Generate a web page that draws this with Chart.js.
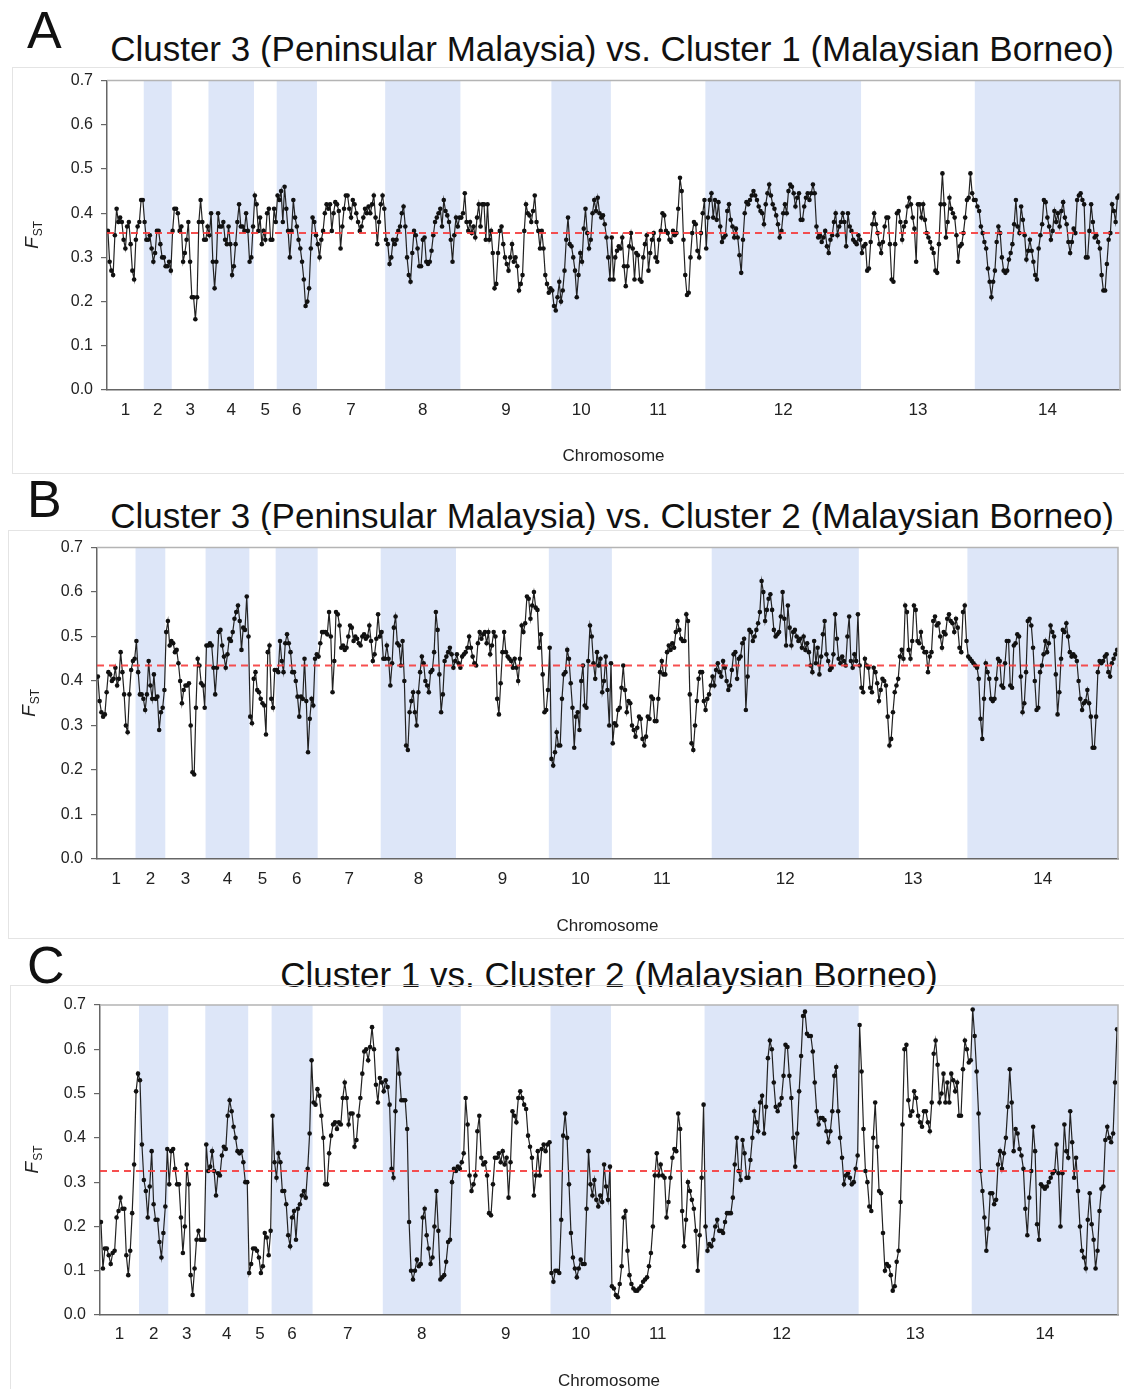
<!DOCTYPE html>
<html>
<head>
<meta charset="utf-8">
<title>FST scans</title>
<script src="https://cdn.jsdelivr.net/npm/chart.js@4.4.1/dist/chart.umd.min.js"></script>
<style>
  body { margin: 0; width: 1124px; height: 1389px; background: #fff; position: relative; overflow: hidden;
         font-family: "Liberation Sans", Arial, sans-serif; color: #111; }
  .letter { position: absolute; font-size: 52px; line-height: 1; }
  .title { position: absolute; font-size: 35px; line-height: 1; white-space: nowrap; transform: translateX(-50%); }
  .frame { position: absolute; border: 1px solid #e4e4e4; box-sizing: border-box; }
  .holder { position: absolute; }
</style>
</head>
<body>
<div class="letter" style="left:27px;top:4px">A</div>
<div class="title" style="left:612px;top:31px">Cluster 3 (Peninsular Malaysia) vs. Cluster 1 (Malaysian Borneo)</div>
<div class="frame" style="left:12px;top:67px;width:1120px;height:407px"></div>
<div class="holder" style="left:12px;top:63px;width:1112px;height:410px"><canvas id="chartA"></canvas></div>

<div class="letter" style="left:27px;top:473px">B</div>
<div class="title" style="left:612px;top:498px">Cluster 3 (Peninsular Malaysia) vs. Cluster 2 (Malaysian Borneo)</div>
<div class="frame" style="left:8px;top:530px;width:1124px;height:409px"></div>
<div class="holder" style="left:8px;top:530px;width:1116px;height:408px"><canvas id="chartB"></canvas></div>

<div class="letter" style="left:27px;top:939px">C</div>
<div class="title" style="left:609px;top:957px">Cluster 1 vs. Cluster 2 (Malaysian Borneo)</div>
<div class="frame" style="left:10px;top:985px;width:1122px;height:420px"></div>
<div class="holder" style="left:10px;top:985px;width:1114px;height:404px"><canvas id="chartC"></canvas></div>

<script>
// Chromosome names on the x axis
const chromosomes = ['1', '2', '3', '4', '5', '6', '7', '8', '9', '10', '11', '12', '13', '14'];

// Genome-wide mean FST per comparison (red dashed line)
const meanA = 0.355;
const meanB = 0.435;
const meanC = 0.325;

// Window FST values, one list per chromosome
const fstA = [
  [0.36,0.29,0.27,0.26,0.35,0.41,0.38,0.39,0.38,0.34,0.32,0.37,0.38,0.33,0.27,0.25,0.34,0.37,0.38,0.43,0.43],
  [0.38,0.34,0.34,0.35,0.32,0.29,0.31,0.36,0.36,0.33,0.30,0.30,0.28,0.28,0.29,0.27],
  [0.36,0.41,0.41,0.40,0.36,0.37,0.29,0.31,0.34,0.38,0.29,0.21,0.21,0.16,0.21,0.38,0.43,0.38,0.34,0.34,0.37],
  [0.35,0.40,0.29,0.23,0.29,0.40,0.37,0.37,0.38,0.34,0.33,0.37,0.33,0.26,0.28,0.33,0.38,0.42,0.37,0.37,0.36,0.40,0.36,0.29,0.30,0.37],
  [0.44,0.42,0.36,0.39,0.33,0.36,0.34,0.40,0.41,0.34,0.34,0.41,0.38],
  [0.44,0.43,0.45,0.38,0.46,0.41,0.36,0.30,0.36,0.43,0.39,0.37,0.34,0.32,0.29,0.25,0.19,0.20,0.23,0.32,0.39,0.38,0.35],
  [0.33,0.30,0.34,0.36,0.40,0.42,0.41,0.42,0.36,0.40,0.425,0.42,0.405,0.32,0.37,0.41,0.44,0.44,0.41,0.39,
   0.43,0.42,0.40,0.38,0.36,0.37,0.39,0.41,0.40,0.415,0.40,0.42,0.44,0.39,0.33,0.38,0.42,0.44,0.41],
  [0.34,0.33,0.285,0.30,0.34,0.33,0.34,0.36,0.37,0.40,0.415,0.37,0.30,0.26,0.245,0.31,0.36,0.35,0.32,0.28,
   0.28,0.34,0.345,0.29,0.285,0.29,0.315,0.35,0.38,0.39,0.40,0.41,0.37,0.43,0.405,0.395,0.38,0.34,0.29,0.35,
   0.39,0.37,0.39],
  [0.39,0.40,0.445,0.38,0.36,0.38,0.355,0.37,0.345,0.39,0.42,0.37,0.42,0.42,0.34,0.42,0.34,0.36,0.31,0.23,
   0.24,0.31,0.36,0.37,0.33,0.30,0.285,0.27,0.30,0.33,0.29,0.30,0.28,0.225,0.24,0.26,0.36,0.42,0.40,0.395,
   0.38,0.405,0.44,0.38,0.36,0.32,0.36,0.32,0.26,0.24,0.22,0.23],
  [0.225,0.19,0.18,0.21,0.245,0.20,0.225,0.27,0.34,0.39,0.33,0.325,0.30,0.27,0.21,0.26,0.31,0.29,0.365,0.41,
   0.355,0.32,0.34,0.40,0.43,0.405,0.435,0.40,0.39,0.395,0.375,0.345,0.30,0.25],
  [0.345,0.25,0.30,0.315,0.325,0.32,0.345,0.28,0.235,0.28,0.325,0.355,0.32,0.25,0.31,0.305,0.25,0.245,0.30,0.33,
   0.35,0.27,0.31,0.34,0.355,0.30,0.29,0.34,0.36,0.40,0.395,0.36,0.355,0.34,0.335,0.36,0.35,0.355,0.41,0.48,
   0.45,0.34,0.26,0.215,0.22,0.30,0.355,0.38,0.375,0.315,0.30,0.355,0.40,0.43],
  [0.32,0.39,0.43,0.445,0.39,0.43,0.385,0.425,0.37,0.335,0.345,0.35,0.405,0.42,0.385,0.37,0.345,0.365,0.345,0.305,
   0.265,0.34,0.40,0.425,0.42,0.43,0.44,0.45,0.44,0.43,0.415,0.405,0.40,0.375,0.42,0.445,0.465,0.44,0.42,0.41,
   0.395,0.375,0.345,0.36,0.40,0.42,0.40,0.45,0.465,0.46,0.445,0.415,0.435,0.445,0.385,0.385,0.415,0.435,0.445,0.43,
   0.445,0.465,0.445,0.37,0.345,0.35,0.335,0.345,0.36,0.325,0.31,0.34,0.35,0.38,0.40,0.35,0.37,0.38,0.40,0.38,
   0.325,0.40,0.37,0.36,0.34,0.335,0.33,0.35,0.34],
  [0.31,0.325,0.33,0.27,0.275,0.335,0.375,0.40,0.375,0.355,0.33,0.31,0.335,0.37,0.39,0.39,0.33,0.25,0.245,0.33,
   0.40,0.405,0.38,0.34,0.37,0.38,0.415,0.435,0.42,0.39,0.365,0.29,0.42,0.42,0.39,0.42,0.385,0.355,0.345,0.335,
   0.32,0.31,0.27,0.265,0.33,0.42,0.49,0.42,0.345,0.38,0.435,0.41,0.40,0.39,0.35,0.29,0.325,0.33,0.355,0.39,
   0.43,0.435,0.49,0.445,0.43],
  [0.43,0.415,0.405,0.37,0.355,0.335,0.32,0.275,0.245,0.21,0.245,0.27,0.335,0.37,0.355,0.30,0.27,0.265,0.27,0.295,
   0.31,0.33,0.375,0.43,0.37,0.355,0.415,0.385,0.35,0.295,0.315,0.34,0.315,0.29,0.26,0.25,0.32,0.35,0.375,0.43,
   0.425,0.39,0.37,0.34,0.36,0.405,0.38,0.40,0.37,0.405,0.425,0.39,0.375,0.335,0.31,0.335,0.365,0.355,0.43,0.44,
   0.445,0.43,0.42,0.30,0.30,0.36,0.42,0.38,0.345,0.35,0.335,0.32,0.26,0.225,0.225,0.285,0.34,0.355,0.42,0.405,
   0.38,0.435,0.44]
];

const fstB = [
  [0.41,0.355,0.33,0.32,0.325,0.375,0.42,0.415,0.40,0.405,0.43,0.39,0.405,0.465,0.42,0.37,0.30,0.285,0.37,0.425,0.445,0.45],
  [0.49,0.42,0.37,0.37,0.36,0.335,0.37,0.445,0.39,0.36,0.415,0.36,0.365,0.29,0.33,0.34,0.38],
  [0.51,0.535,0.48,0.49,0.485,0.465,0.47,0.44,0.40,0.35,0.38,0.39,0.39,0.395,0.30,0.195,0.19,0.34,0.45,0.435,0.395,0.39,0.34],
  [0.48,0.48,0.485,0.48,0.43,0.37,0.43,0.51,0.515,0.48,0.455,0.43,0.46,0.495,0.49,0.51,0.54,0.555,0.57,0.535,0.47,0.52,0.515,0.59,0.50],
  [0.32,0.305,0.405,0.42,0.38,0.375,0.36,0.35,0.345,0.28,0.465,0.48,0.36,0.34,0.425],
  [0.425,0.42,0.49,0.445,0.42,0.485,0.505,0.485,0.465,0.42,0.42,0.40,0.365,0.32,0.365,0.36,0.45,0.355,0.24,0.315,0.36,0.345,0.45,0.46],
  [0.455,0.485,0.51,0.51,0.51,0.505,0.555,0.50,0.375,0.445,0.555,0.55,0.525,0.475,0.48,0.47,0.475,0.50,0.525,0.52,
   0.49,0.50,0.495,0.485,0.48,0.50,0.505,0.495,0.50,0.525,0.49,0.445,0.46,0.495,0.55,0.50],
  [0.51,0.45,0.45,0.48,0.45,0.39,0.44,0.52,0.545,0.485,0.48,0.435,0.49,0.40,0.255,0.245,0.33,0.355,0.375,0.33,
   0.30,0.375,0.42,0.455,0.44,0.40,0.39,0.375,0.42,0.425,0.465,0.555,0.515,0.415,0.33,0.37,0.445,0.455,0.465,0.475,
   0.46,0.43,0.445],
  [0.46,0.44,0.43,0.455,0.46,0.465,0.475,0.50,0.475,0.455,0.44,0.435,0.485,0.51,0.495,0.505,0.51,0.485,0.51,0.46,
   0.48,0.51,0.50,0.36,0.325,0.395,0.465,0.51,0.465,0.455,0.45,0.445,0.43,0.45,0.43,0.40,0.45,0.525,0.51,0.53,
   0.59,0.585,0.54,0.57,0.60,0.565,0.56,0.475,0.505,0.415,0.33,0.335,0.38],
  [0.475,0.225,0.21,0.24,0.285,0.255,0.255,0.36,0.415,0.42,0.47,0.45,0.395,0.34,0.25,0.32,0.33,0.29,0.40,0.435,
   0.345,0.34,0.445,0.525,0.50,0.44,0.405,0.465,0.435,0.45,0.375,0.40,0.455,0.38,0.30,0.44],
  [0.26,0.305,0.30,0.335,0.34,0.385,0.435,0.38,0.33,0.355,0.35,0.30,0.29,0.275,0.295,0.32,0.315,0.27,0.255,0.275,
   0.32,0.315,0.365,0.36,0.31,0.31,0.36,0.42,0.445,0.415,0.415,0.465,0.48,0.47,0.485,0.475,0.51,0.535,0.515,0.495,
   0.49,0.49,0.55,0.535,0.37,0.26,0.245,0.30,0.355,0.405,0.42,0.42,0.355,0.335,0.36,0.37,0.39],
  [0.41,0.39,0.425,0.44,0.42,0.41,0.445,0.43,0.40,0.38,0.39,0.425,0.46,0.465,0.405,0.45,0.455,0.485,0.495,0.335,
   0.41,0.515,0.51,0.49,0.50,0.515,0.53,0.555,0.625,0.60,0.535,0.56,0.585,0.595,0.56,0.515,0.50,0.505,0.51,0.545,
   0.60,0.54,0.48,0.57,0.52,0.48,0.51,0.515,0.50,0.49,0.495,0.475,0.50,0.47,0.485,0.465,0.435,0.42,0.49,0.44,
   0.475,0.415,0.455,0.505,0.535,0.46,0.445,0.425,0.43,0.46,0.55,0.495,0.45,0.44,0.455,0.445,0.435,0.50,0.545,0.445,
   0.43,0.46,0.445,0.55],
  [0.435,0.385,0.375,0.45,0.435,0.43,0.385,0.375,0.43,0.42,0.395,0.355,0.38,0.405,0.40,0.39,0.32,0.255,0.27,0.33,
   0.375,0.39,0.405,0.455,0.47,0.45,0.57,0.555,0.47,0.45,0.49,0.57,0.56,0.49,0.485,0.51,0.475,0.465,0.465,0.42,
   0.455,0.465,0.535,0.545,0.525,0.53,0.50,0.475,0.51,0.505,0.54,0.55,0.535,0.53,0.51,0.54,0.52,0.475,0.465,0.555,
   0.57,0.49],
  [0.455,0.45,0.445,0.44,0.435,0.43,0.405,0.315,0.27,0.36,0.44,0.42,0.405,0.36,0.355,0.36,0.405,0.45,0.445,0.39,
   0.385,0.44,0.49,0.49,0.39,0.385,0.48,0.485,0.505,0.50,0.41,0.33,0.35,0.42,0.535,0.54,0.525,0.475,0.40,0.335,
   0.34,0.42,0.435,0.46,0.49,0.465,0.485,0.525,0.51,0.50,0.415,0.325,0.375,0.45,0.515,0.51,0.53,0.50,0.465,0.455,
   0.46,0.455,0.445,0.40,0.36,0.335,0.35,0.355,0.38,0.35,0.32,0.25,0.25,0.32,0.42,0.445,0.44,0.445,0.455,0.46,
   0.42,0.41,0.44,0.45,0.46,0.47]
];

const fstC = [
  [0.21,0.105,0.15,0.15,0.135,0.115,0.14,0.145,0.22,0.235,0.265,0.24,0.24,0.135,0.09,0.145,0.23,0.34,0.505,0.545],
  [0.53,0.385,0.305,0.28,0.22,0.29,0.37,0.25,0.215,0.215,0.165,0.13,0.185,0.245,0.375],
  [0.295,0.37,0.375,0.33,0.295,0.295,0.22,0.14,0.20,0.34,0.295,0.09,0.045,0.105,0.17,0.19,0.17,0.17,0.17],
  [0.385,0.325,0.335,0.37,0.325,0.27,0.32,0.315,0.36,0.38,0.375,0.45,0.485,0.46,0.425,0.40,0.37,0.365,0.37,0.345,0.30,0.30],
  [0.095,0.115,0.15,0.15,0.145,0.13,0.095,0.11,0.185,0.175,0.135,0.19],
  [0.45,0.345,0.31,0.365,0.345,0.28,0.28,0.25,0.18,0.155,0.22,0.235,0.17,0.24,0.25,0.27,0.28,0.265,0.33,0.41,0.575],
  [0.48,0.475,0.51,0.495,0.45,0.40,0.295,0.295,0.365,0.405,0.43,0.435,0.42,0.435,0.43,0.49,0.525,0.49,0.43,0.455,
   0.455,0.38,0.395,0.45,0.49,0.545,0.595,0.60,0.575,0.605,0.65,0.60,0.52,0.48,0.535,0.525],
  [0.505,0.53,0.515,0.475,0.33,0.31,0.46,0.60,0.545,0.485,0.485,0.485,0.42,0.21,0.10,0.08,0.10,0.125,0.11,0.115,
   0.22,0.24,0.18,0.15,0.115,0.13,0.20,0.28,0.19,0.08,0.085,0.09,0.12,0.165,0.17,0.30,0.33,0.325,0.335,0.33],
  [0.345,0.365,0.49,0.43,0.315,0.28,0.295,0.315,0.415,0.45,0.355,0.34,0.345,0.315,0.23,0.225,0.295,0.355,0.355,0.365,
   0.345,0.37,0.34,0.355,0.265,0.345,0.46,0.45,0.435,0.49,0.505,0.49,0.475,0.465,0.405,0.38,0.355,0.27,0.315,0.37,
   0.315,0.375,0.385,0.37,0.385,0.39],
  [0.095,0.075,0.10,0.10,0.095,0.215,0.405,0.455,0.40,0.295,0.185,0.13,0.105,0.085,0.105,0.125,0.115,0.115,0.24,0.37,
   0.295,0.27,0.305,0.26,0.245,0.27,0.255,0.34,0.29,0.26,0.335],
  [0.065,0.06,0.045,0.04,0.07,0.11,0.22,0.235,0.145,0.09,0.07,0.06,0.055,0.055,0.06,0.065,0.075,0.08,0.085,0.11,
   0.14,0.20,0.315,0.365,0.315,0.34,0.315,0.31,0.22,0.255,0.31,0.355,0.375,0.37,0.455,0.42,0.235,0.155,0.215,0.30,
   0.28,0.26,0.24,0.19,0.10,0.18,0.31,0.475],
  [0.20,0.145,0.16,0.155,0.17,0.20,0.215,0.19,0.19,0.185,0.21,0.23,0.23,0.23,0.265,0.34,0.40,0.325,0.305,0.395,
   0.365,0.31,0.31,0.35,0.40,0.46,0.435,0.415,0.48,0.495,0.41,0.47,0.58,0.62,0.60,0.525,0.47,0.46,0.475,0.49,
   0.54,0.61,0.605,0.54,0.49,0.40,0.335,0.41,0.505,0.585,0.675,0.685,0.635,0.63,0.63,0.595,0.525,0.46,0.43,0.445,
   0.445,0.44,0.415,0.39,0.415,0.46,0.54,0.56,0.46,0.40,0.355,0.295,0.315,0.32,0.31,0.295,0.30,0.33,0.36],
  [0.655,0.55,0.42,0.325,0.30,0.245,0.235,0.40,0.48,0.38,0.28,0.275,0.185,0.10,0.115,0.11,0.09,0.055,0.065,0.12,
   0.145,0.255,0.43,0.60,0.61,0.485,0.45,0.46,0.505,0.49,0.45,0.435,0.425,0.46,0.46,0.435,0.415,0.48,0.59,0.62,
   0.565,0.48,0.50,0.545,0.48,0.525,0.48,0.545,0.53,0.505,0.525,0.45,0.45,0.555,0.62,0.60,0.57,0.575],
  [0.69,0.63,0.55,0.455,0.325,0.28,0.22,0.145,0.195,0.275,0.275,0.25,0.26,0.34,0.37,0.33,0.365,0.40,0.47,0.555,
   0.48,0.37,0.42,0.41,0.375,0.36,0.33,0.24,0.18,0.265,0.325,0.425,0.37,0.205,0.17,0.295,0.29,0.285,0.29,0.30,
   0.31,0.32,0.325,0.385,0.32,0.20,0.32,0.43,0.37,0.355,0.46,0.39,0.31,0.355,0.28,0.20,0.145,0.13,0.105,0.215,
   0.275,0.205,0.17,0.105,0.145,0.235,0.285,0.29,0.395,0.425,0.40,0.39,0.41,0.525,0.645]
];

const FONT = '"Liberation Sans", Arial, sans-serif';
Chart.defaults.font.family = FONT;
Chart.defaults.color = '#222';

// lay the windows end to end; remember where each chromosome starts and stops
function flatten(fst) {
  const points = [];
  const spans = [];
  let idx = 0;
  fst.forEach(chr => {
    const start = idx;
    chr.forEach(v => points.push({ x: idx++, y: v }));
    spans.push([start, idx - 1]);
  });
  return { points, spans, total: idx };
}

// shade every second chromosome
const bandPlugin = {
  id: 'chromBands',
  beforeDraw(chart, args, opts) {
    const { ctx, chartArea: a, scales: { x } } = chart;
    ctx.save();
    ctx.fillStyle = opts.color;
    opts.spans.forEach((s, i) => {
      if (i % 2 === 0) return;
      const x0 = x.getPixelForValue(s[0] - 0.5);
      const x1 = x.getPixelForValue(s[1] + 0.5);
      ctx.fillRect(x0, a.top, x1 - x0, a.bottom - a.top);
    });
    ctx.restore();
  }
};

// light top/right frame and the F_ST axis title with its subscript
const framePlugin = {
  id: 'plotFrame',
  afterDraw(chart, args, opts) {
    const { ctx, chartArea: a } = chart;
    ctx.save();
    ctx.strokeStyle = '#b4b4b4';
    ctx.lineWidth = 1.5;
    ctx.beginPath();
    ctx.moveTo(a.left, a.top);
    ctx.lineTo(a.right, a.top);
    ctx.lineTo(a.right, a.bottom);
    ctx.stroke();

    ctx.translate(a.left - opts.titleOffset, (a.top + a.bottom) / 2);
    ctx.rotate(-Math.PI / 2);
    ctx.fillStyle = '#222';
    ctx.font = 'italic 19px ' + FONT;
    const fW = ctx.measureText('F').width;
    ctx.font = '12px ' + FONT;
    const sW = ctx.measureText('ST').width;
    const x0 = -(fW + sW) / 2;
    ctx.font = 'italic 19px ' + FONT;
    ctx.fillText('F', x0, 6);
    ctx.font = '12px ' + FONT;
    ctx.fillText('ST', x0 + fW + 1, 10);
    ctx.restore();
  }
};

function buildChart(id, fst, mean, g) {
  const { points, spans, total } = flatten(fst);
  const centers = spans.map(s => (s[0] + s[1]) / 2);

  return new Chart(document.getElementById(id), {
    type: 'line',
    data: {
      datasets: [
        {
          label: 'mean',
          data: [{ x: -0.5, y: mean }, { x: total - 0.5, y: mean }],
          borderColor: 'rgba(245, 60, 60, 0.9)',
          borderWidth: 2,
          borderDash: [7, 5],
          pointRadius: 0,
          order: 0
        },
        {
          label: 'FST',
          data: points,
          borderColor: '#222',
          borderWidth: 1.2,
          pointRadius: 2.3,
          pointBorderWidth: 0,
          pointBackgroundColor: '#111',
          tension: 0,
          order: 1
        }
      ]
    },
    options: {
      animation: false,
      responsive: true,
      maintainAspectRatio: false,
      layout: { padding: { top: g.top, right: g.right, left: 0, bottom: 0 } },
      plugins: {
        legend: { display: false },
        tooltip: { enabled: false },
        chromBands: { spans, color: '#dde6f8' },
        plotFrame: { titleOffset: g.titleOffset }
      },
      scales: {
        x: {
          type: 'linear',
          min: -0.5,
          max: total - 0.5,
          afterBuildTicks: s => { s.ticks = centers.map(v => ({ value: v })); },
          afterFit: s => { s.height = g.bottom; },
          ticks: {
            autoSkip: false,
            maxRotation: 0,
            padding: g.tickPad,
            color: '#222',
            font: { size: 17 },
            callback: (v, i) => chromosomes[i]
          },
          grid: { display: true, drawOnChartArea: false, drawTicks: false },
          border: { color: '#666', width: 1.5 },
          title: {
            display: true, text: 'Chromosome', color: '#222',
            font: { size: 17, lineHeight: g.titleLH },
            padding: { top: 0, bottom: g.titlePad }
          }
        },
        y: {
          min: 0,
          max: 0.7,
          afterFit: s => { s.width = g.left; },
          ticks: { stepSize: 0.1, padding: 8, color: '#222', font: { size: 16 }, callback: v => v.toFixed(1) },
          grid: { drawOnChartArea: false, drawTicks: true, tickLength: 6, color: '#666', lineWidth: 1.2 },
          border: { color: '#666', width: 1.5 }
        }
      }
    },
    plugins: [bandPlugin, framePlugin]
  });
}

buildChart('chartA', fstA, meanA, { top: 17, right: 4, left: 95, bottom: 83, tickPad: 10, titlePad: 6, titleLH: 1.2, titleOffset: 75 });
buildChart('chartB', fstB, meanB, { top: 17, right: 6, left: 89, bottom: 79, tickPad: 10, titlePad: 1, titleLH: 1.2, titleOffset: 68 });
buildChart('chartC', fstC, meanC, { top: 20, right: 6, left: 90, bottom: 74, tickPad: 9, titlePad: -1, titleLH: 1.0, titleOffset: 68 });
</script>
</body>
</html>
